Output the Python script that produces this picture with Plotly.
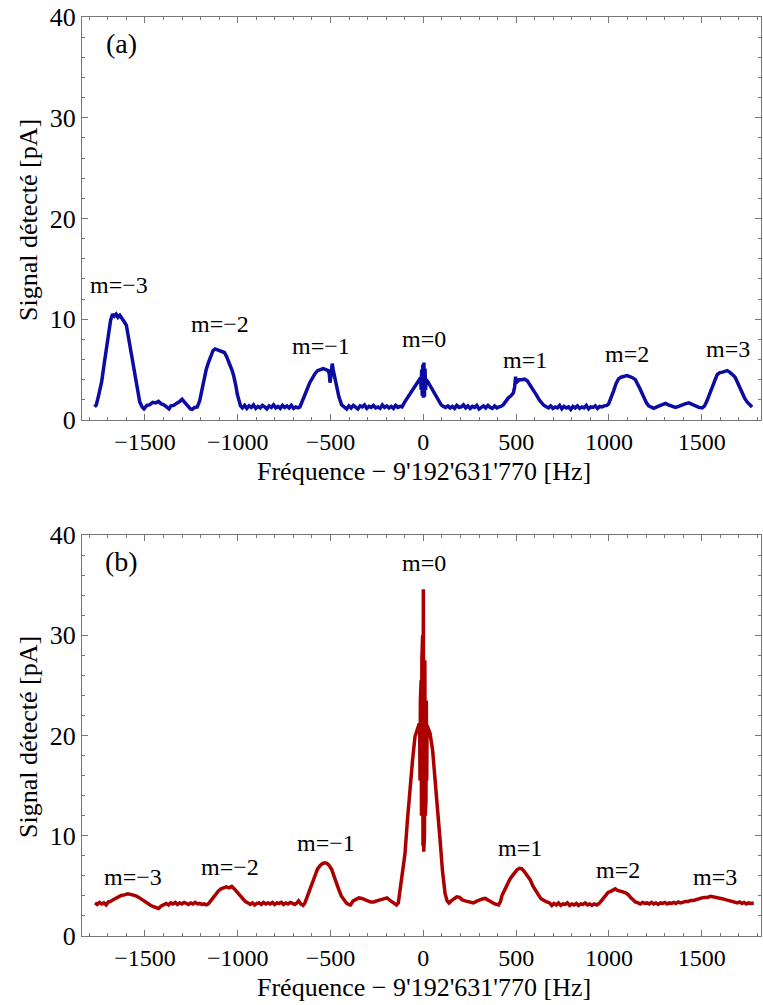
import plotly.graph_objects as go

# ---------------- data ----------------
freq_a = [-1771,-1762,-1750,-1733,-1720,-1706,-1695,-1685,-1675,-1665,
          -1655,-1645,-1635,-1622,-1610,-1600,-1590,-1578,-1565,-1553,
          -1540,-1528,-1515,-1505,-1490,-1475,-1458,-1442,-1427,-1412,
          -1398,-1382,-1370,-1360,-1345,-1330,-1315,-1300,-1290,-1280,
          -1268,-1255,-1245,-1232,-1218,-1205,-1195,-1183,-1170,-1158,
          -1145,-1133,-1122,-1110,-1098,-1085,-1072,-1060,-1048,-1038,
          -1030,-1022,-1016,-1010,-1003,-995,-985,-975,-963,-951,
          -939,-927,-915,-903,-891,-879,-867,-855,-843,-831,
          -819,-807,-795,-783,-771,-759,-747,-735,-723,-711,
          -699,-687,-675,-665,-650,-638,-625,-612,-598,-584,
          -570,-555,-540,-525,-513,-507,-503,-499,-495,-491,
          -486,-478,-467,-455,-440,-425,-413,-401,-389,-377,
          -365,-353,-341,-329,-317,-305,-293,-281,-269,-257,
          -245,-233,-221,-209,-197,-185,-173,-161,-149,-137,
          -125,-115,-100,-86,-72,-58,-44,-30,-18,-15,
          -12,-9,-6,-3,0,3,6,9,12,15,
          24,36,48,60,72,84,96,108,120,132,
          144,156,168,180,192,204,216,228,240,252,
          264,276,288,300,312,324,336,348,360,372,
          384,396,408,418,430,445,458,472,485,492,
          497,500,503,508,515,530,545,560,575,590,
          602,612,624,636,647,660,674,686,698,710,
          722,734,746,758,770,782,794,806,818,830,
          842,854,866,878,890,902,914,926,938,950,
          962,975,988,998,1010,1025,1038,1052,1065,1080,
          1097,1112,1127,1142,1155,1167,1178,1190,1202,1214,
          1228,1241,1258,1275,1290,1304,1320,1340,1358,1375,
          1392,1410,1430,1448,1466,1484,1502,1515,1528,1542,
          1556,1570,1583,1597,1612,1625,1637,1650,1662,1672,
          1681,1692,1703,1717,1730,1744,1757,1771]
signal_a = [1.3,1.5,2.4,3.8,5.5,7.2,8.8,9.9,10.5,10.3,
            10.5,10.2,10.4,10.1,9.7,9.4,8.3,7.2,5.9,4.5,
            3.0,1.8,1.3,1.1,1.45,1.5,1.75,1.7,1.85,1.6,
            1.5,1.25,1.1,1.4,1.45,1.65,1.8,2.05,1.85,1.6,
            1.3,1.1,1.05,1.25,1.3,1.9,2.8,4.0,5.0,5.7,
            6.4,6.9,7.05,6.95,6.9,6.8,6.7,6.3,5.8,5.2,
            4.9,4.4,3.6,3.4,2.6,1.9,1.4,1.2,1.45,1.15,
            1.4,1.25,1.5,1.15,1.35,1.2,1.45,1.3,1.1,1.4,
            1.25,1.5,1.2,1.35,1.15,1.45,1.25,1.4,1.2,1.45,
            1.15,1.3,1.2,1.3,1.9,2.5,3.1,3.7,4.2,4.6,
            4.9,5.0,5.1,5.0,4.9,4.6,3.7,4.2,5.2,5.6,
            5.0,4.3,3.3,2.3,1.5,1.25,1.1,1.4,1.2,1.45,
            1.25,1.1,1.4,1.3,1.5,1.15,1.35,1.25,1.45,1.2,
            1.3,1.15,1.5,1.25,1.4,1.2,1.35,1.15,1.45,1.25,
            1.35,1.3,1.8,2.2,2.6,3.1,3.5,3.9,4.1,4.2,
            3.0,5.0,2.4,5.5,2.2,5.7,2.3,5.1,3.0,4.0,
            3.8,3.4,3.0,2.6,2.2,1.8,1.5,1.35,1.25,1.4,
            1.2,1.35,1.15,1.45,1.25,1.3,1.5,1.2,1.4,1.15,
            1.35,1.25,1.45,1.1,1.3,1.4,1.2,1.45,1.25,1.15,
            1.4,1.2,1.3,1.35,1.5,1.9,2.2,2.4,2.7,3.3,
            4.3,3.6,4.1,3.8,4.0,4.0,4.05,3.9,3.5,3.1,
            2.7,2.4,2.0,1.7,1.5,1.35,1.2,1.4,1.15,1.3,
            1.2,1.45,1.1,1.35,1.2,1.3,1.05,1.35,1.2,1.4,
            1.15,1.3,1.2,1.45,1.1,1.3,1.25,1.4,1.15,1.35,
            1.3,1.4,1.45,1.6,2.1,2.9,3.6,4.1,4.25,4.3,
            4.4,4.3,4.2,4.0,3.6,3.1,2.65,2.1,1.7,1.4,
            1.25,1.15,1.3,1.45,1.55,1.65,1.5,1.35,1.25,1.35,
            1.5,1.6,1.7,1.55,1.35,1.25,1.2,1.4,1.9,2.5,
            3.1,3.9,4.5,4.7,4.75,4.8,4.9,4.75,4.6,4.4,
            4.2,3.7,3.2,2.7,2.2,1.8,1.5,1.3]

freq_b = [-1769,-1757,-1745,-1733,-1721,-1709,-1697,-1685,-1673,-1660,
          -1645,-1628,-1610,-1593,-1578,-1563,-1548,-1533,-1518,-1503,
          -1488,-1472,-1457,-1442,-1427,-1412,-1397,-1385,-1373,-1361,
          -1349,-1337,-1325,-1313,-1301,-1289,-1277,-1265,-1253,-1241,
          -1229,-1217,-1205,-1193,-1181,-1169,-1158,-1145,-1132,-1118,
          -1104,-1090,-1075,-1061,-1047,-1032,-1018,-1004,-990,-975,
          -960,-945,-933,-921,-909,-897,-885,-873,-861,-849,
          -837,-825,-813,-801,-789,-777,-765,-753,-741,-729,
          -717,-705,-693,-681,-672,-660,-648,-638,-628,-618,
          -607,-595,-582,-570,-557,-545,-532,-519,-506,-493,
          -480,-468,-455,-442,-429,-415,-403,-393,-378,-362,
          -347,-331,-315,-299,-283,-267,-251,-236,-221,-206,
          -196,-183,-170,-157,-145,-135,-125,-112,-99,-86,
          -72,-58,-45,-32,-22,-20,-18,-16,-14,-12,
          -10,-8,-6,-4,-2,0,2,4,6,8,
          10,12,14,16,18,20,26,36,50,63,
          76,90,103,117,
          128,138,150,165,180,195,210,225,240,255,
          270,285,300,318,333,348,365,385,405,415,
          425,440,455,467,477,490,504,518,531,545,
          560,576,590,605,620,635,650,665,680,692,
          704,716,728,740,752,764,776,788,800,812,
          824,836,848,860,872,884,896,908,920,935,
          950,965,980,995,1010,1022,1034,1046,1060,1075,
          1090,1105,1118,1130,1142,1157,1169,1181,1193,1205,
          1217,1229,1241,1253,1265,1277,1289,1301,1313,1325,
          1337,1349,1361,1373,1385,1397,1412,1427,1442,1456,
          1470,1485,1500,1515,1530,1548,1564,1580,1597,1615,
          1632,1650,1665,1680,1692,1704,1716,1728,1740,1752,
          1764,1780]
signal_b = [3.3,3.15,3.35,3.2,3.3,3.1,3.4,3.45,3.6,3.75,
            3.9,4.05,4.1,4.2,4.15,4.1,4.0,3.85,3.65,3.45,
            3.3,3.1,2.95,2.85,2.75,3.0,3.1,3.25,3.1,3.3,
            3.2,3.35,3.15,3.3,3.2,3.35,3.25,3.15,3.3,3.2,
            3.35,3.2,3.25,3.15,3.2,3.1,3.2,3.5,3.9,4.25,
            4.5,4.7,4.8,4.9,4.8,4.95,4.7,4.4,4.1,3.75,
            3.45,3.3,3.15,3.3,3.1,3.25,3.3,3.15,3.35,3.2,
            3.3,3.2,3.35,3.15,3.3,3.25,3.35,3.15,3.3,3.2,
            3.35,3.25,3.15,3.3,3.5,3.2,3.05,3.3,3.8,4.4,
            5.0,5.6,6.2,6.7,7.0,7.2,7.3,7.25,7.0,6.6,
            5.9,5.2,4.6,4.0,3.6,3.3,3.15,3.1,3.5,3.7,
            3.8,3.75,3.6,3.5,3.4,3.4,3.5,3.6,3.7,3.75,
            3.8,3.6,3.4,3.2,3.1,3.3,4.5,6.2,8.2,11.5,
            14.9,17.6,19.9,20.8,21.2,21.0,15.5,23.5,13.5,25.5,
            12.0,27.5,10.5,30.0,9.0,34.6,8.4,30.0,10.0,27.5,
            12.0,25.5,13.5,23.5,15.5,21.0,20.7,20.2,18.5,15.9,
            12.8,9.6,6.5,4.25,
            3.5,3.3,3.5,3.7,3.9,3.85,3.6,3.5,3.45,3.4,
            3.3,3.45,3.6,3.7,3.75,3.6,3.4,3.2,3.1,3.4,
            4.1,4.7,5.3,5.7,5.95,6.3,6.6,6.75,6.7,6.4,
            6.0,5.6,5.0,4.5,4.1,3.7,3.5,3.4,3.3,3.05,
            3.25,3.1,3.3,3.05,3.2,3.15,3.3,3.05,3.2,3.1,
            3.25,3.05,3.2,3.15,3.3,3.1,3.2,3.05,3.2,3.1,
            3.3,3.7,4.1,4.35,4.45,4.6,4.7,4.55,4.5,4.4,
            4.3,4.1,3.8,3.55,3.4,3.3,3.2,3.35,3.25,3.3,
            3.2,3.35,3.2,3.3,3.15,3.3,3.25,3.35,3.2,3.3,
            3.25,3.35,3.25,3.4,3.3,3.35,3.45,3.45,3.55,3.55,
            3.65,3.7,3.8,3.85,3.85,3.95,3.9,3.85,3.8,3.7,
            3.6,3.5,3.45,3.4,3.3,3.4,3.25,3.35,3.2,3.3,
            3.25,3.3]

labels = ["m=\u22123", "m=\u22122", "m=\u22121", "m=0", "m=1", "m=2", "m=3"]
label_x_a = [-1641, -1093, -552, 4, 546, 1099, 1643]
label_y_a = [13.4, 9.5, 7.3, 8.0, 6.0, 6.55, 7.0]
label_x_b = [-1566, -1043, -525, 4, 521, 1049, 1571]
label_y_b = [5.9, 6.9, 9.25, 37.2, 8.75, 6.6, 5.85]

x_ticks = [-1500, -1000, -500, 0, 500, 1000, 1500]
y_ticks = [0, 10, 20, 30, 40]
x_title = "Fréquence \u2212 9'192'631'770 [Hz]"
y_title = "Signal détecté [pA]"
panel_tags = ["(a)", "(b)"]

# ---------------- figure ----------------
W, H = 763, 1005
FONT = "Liberation Serif"
AX_COL = "#777777"
BLUE = "#0c0ca3"
RED = "#aa0000"

dom_x = [82 / W, 761 / W]
dom_a = [1 - 420 / H, 1 - 17 / H]
dom_b = [1 - 936 / H, 1 - 535 / H]

fig = go.Figure()
fig.add_trace(go.Scatter(x=freq_a, y=signal_a, mode="lines",
                         line=dict(color=BLUE, width=3.5), xaxis="x", yaxis="y",
                         showlegend=False, hoverinfo="skip"))
fig.add_trace(go.Scatter(x=freq_b, y=signal_b, mode="lines",
                         line=dict(color=RED, width=3.5), xaxis="x2", yaxis="y2",
                         showlegend=False, hoverinfo="skip"))

def xax(anchor):
    return dict(domain=dom_x, anchor=anchor, range=[-1839, 1819], automargin=False,
                tickmode="array", tickvals=x_ticks,
                ticktext=[("\u2212" + str(abs(v))) if v < 0 else str(v) for v in x_ticks],
                ticks="inside", ticklen=6, tickwidth=1, tickcolor=AX_COL,
                minor=dict(dtick=100, tick0=0, ticks="inside", ticklen=3, tickwidth=1, tickcolor=AX_COL),
                showline=True, linecolor=AX_COL, linewidth=1, mirror="allticks",
                showgrid=False, zeroline=False,
                tickfont=dict(family=FONT, size=24, color="black"))

def yax(anchor, dom):
    return dict(domain=dom, anchor=anchor, range=[0, 40], automargin=False,
                tickmode="array", tickvals=y_ticks,
                ticks="inside", ticklen=6, tickwidth=1, tickcolor=AX_COL,
                minor=dict(dtick=2, tick0=0, ticks="inside", ticklen=3, tickwidth=1, tickcolor=AX_COL),
                showline=True, linecolor=AX_COL, linewidth=1, mirror="allticks",
                showgrid=False, zeroline=False, ticklabelstandoff=0,
                tickfont=dict(family=FONT, size=26, color="black"))

fig.update_layout(
    width=W, height=H,
    margin=dict(l=0, r=0, t=0, b=0, autoexpand=False),
    paper_bgcolor="white", plot_bgcolor="white",
    xaxis=xax("y"), yaxis=yax("x", dom_a),
    xaxis2=xax("y2"), yaxis2=yax("x2", dom_b),
    font=dict(family=FONT, color="black"),
)

ann = []
for lx, ly, lt in zip(label_x_a, label_y_a, labels):
    ann.append(dict(x=lx, y=ly, xref="x", yref="y", text=lt, showarrow=False,
                    font=dict(family=FONT, size=24, color="black")))
for lx, ly, lt in zip(label_x_b, label_y_b, labels):
    ann.append(dict(x=lx, y=ly, xref="x2", yref="y2", text=lt, showarrow=False,
                    font=dict(family=FONT, size=24, color="black")))
ann.append(dict(x=-1625, y=37.4, xref="x", yref="y", text=panel_tags[0], showarrow=False,
                font=dict(family=FONT, size=28, color="black")))
ann.append(dict(x=-1625, y=37.4, xref="x2", yref="y2", text=panel_tags[1], showarrow=False,
                font=dict(family=FONT, size=28, color="black")))
for yc in [1 - 471 / H, 1 - 987 / H]:
    ann.append(dict(x=423.5 / W, y=yc, xref="paper", yref="paper", text=x_title,
                    showarrow=False, xanchor="center", yanchor="middle",
                    font=dict(family=FONT, size=26, color="black")))
for yc in [1 - 220 / H, 1 - 737 / H]:
    ann.append(dict(x=28 / W, y=yc, xref="paper", yref="paper", text=y_title,
                    showarrow=False, xanchor="center", yanchor="middle", textangle=-90,
                    font=dict(family=FONT, size=26, color="black")))
fig.update_layout(annotations=ann)

fig.write_html("out.html")
